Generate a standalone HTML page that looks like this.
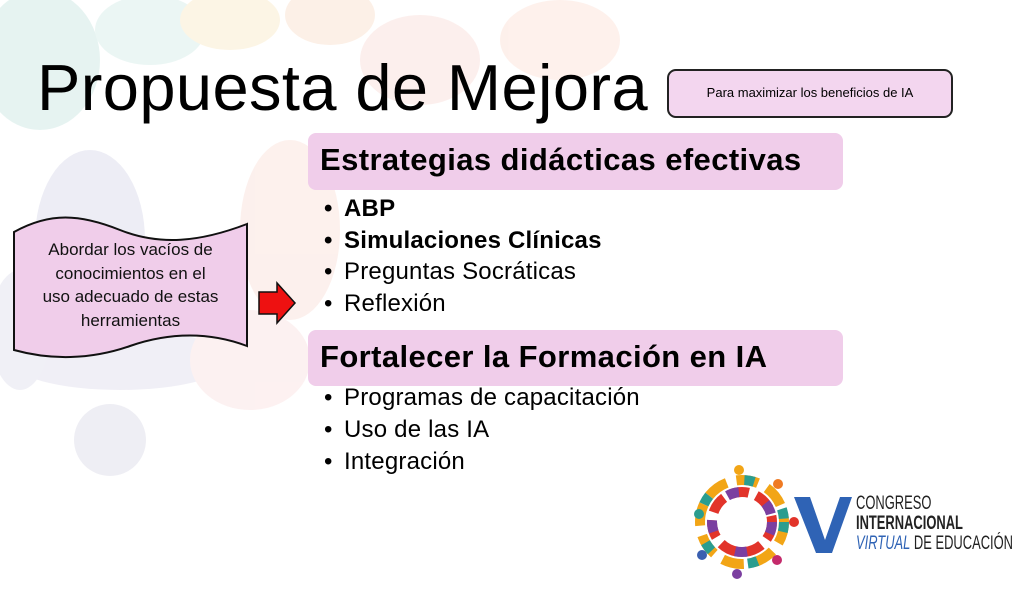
<!DOCTYPE html>
<html><head><meta charset="utf-8"><style>
html,body{margin:0;padding:0;background:#fff;}
#c{position:relative;width:1024px;height:589px;overflow:hidden;background:#fff;font-family:"Liberation Sans",sans-serif;}
.t{position:absolute;white-space:nowrap;color:#000;}
.b{position:absolute;font-size:24px;left:324px;letter-spacing:0.2px;line-height:26px;}
.b span{display:inline-block;width:20px;}
</style></head><body><div id="c">
<svg width="1024" height="589" style="position:absolute;left:0;top:0">
 <g opacity="0.5">
  <ellipse cx="40" cy="60" rx="60" ry="70" fill="#cfe9e4"/>
  <ellipse cx="150" cy="30" rx="55" ry="35" fill="#d9eeea"/>
  <ellipse cx="230" cy="20" rx="50" ry="30" fill="#fbeccc"/>
  <ellipse cx="330" cy="15" rx="45" ry="30" fill="#fbe3d0"/>
  <ellipse cx="90" cy="240" rx="55" ry="90" fill="#dcdcec"/>
  <ellipse cx="120" cy="360" rx="110" ry="30" fill="#e3e1ee"/>
  <ellipse cx="290" cy="230" rx="50" ry="90" fill="#fbe3dc"/>
  <ellipse cx="420" cy="60" rx="60" ry="45" fill="#fbe0dc"/>
  <ellipse cx="560" cy="40" rx="60" ry="40" fill="#fde3d9"/>
  <ellipse cx="250" cy="360" rx="60" ry="50" fill="#fbe4e4"/>
  <circle cx="110" cy="440" r="36" fill="#dfdeea"/>
  <ellipse cx="20" cy="330" rx="30" ry="60" fill="#e3e3ee"/>
 </g>
 <path d="M14,232 C50,212 80,214 120,230 C160,246 200,242 247,224 L247,346 C210,332 170,332 130,346 C90,360 50,360 14,350 Z" fill="#f0cdea" stroke="#111" stroke-width="2"/>
 <path d="M259,292 L277,292 L277,283 L295,303 L277,323 L277,314 L259,314 Z" fill="#ee1111" stroke="#111" stroke-width="1.5"/>
 <rect x="668" y="70" width="284" height="47" rx="8" fill="#f3d6ef" stroke="#222" stroke-width="2"/>
 <rect x="308" y="133" width="535" height="57" rx="8" fill="#f0cdea"/>
 <rect x="308" y="330" width="535" height="56" rx="8" fill="#f0cdea"/>
 <g transform="translate(742,522)">
  <circle r="42" fill="none" stroke="#f2a516" stroke-width="10" stroke-dasharray="22 10"/>
  <circle r="30" fill="none" stroke="#e2342a" stroke-width="10" stroke-dasharray="18 8"/>
  <circle r="30" fill="none" stroke="#7b3fa0" stroke-width="10" stroke-dasharray="12 30"/>
  <circle r="42" fill="none" stroke="#2a9d8f" stroke-width="10" stroke-dasharray="10 40"/>
  <circle cx="-3" cy="-52" r="5" fill="#f2a516"/><circle cx="36" cy="-38" r="5" fill="#ef7a22"/>
  <circle cx="52" cy="0" r="5" fill="#e2342a"/><circle cx="35" cy="38" r="5" fill="#c42a6b"/>
  <circle cx="-5" cy="52" r="5" fill="#7b3fa0"/><circle cx="-40" cy="33" r="5" fill="#3a5fb0"/>
  <circle cx="-43" cy="-8" r="5" fill="#2a9d8f"/>
 </g>
 <path d="M794,497 L810,497 L825,540 L840,497 L852,497 L832,553 L816,553 Z" fill="#2f63b5"/>
</svg>
<div class="t" style="left:37px;top:50px;font-size:65px;letter-spacing:0.4px">Propuesta de Mejora</div>
<div class="t" style="left:668px;top:85px;width:284px;text-align:center;font-size:13px">Para maximizar los beneficios de IA</div>
<div class="t" style="left:320px;top:142px;font-size:31px;font-weight:bold;letter-spacing:0.4px">Estrategias didácticas efectivas</div>
<div class="b" style="top:196px;font-weight:bold"><span>•</span>ABP</div>
<div class="b" style="top:228px;font-weight:bold"><span>•</span>Simulaciones Clínicas</div>
<div class="b" style="top:259px"><span>•</span>Preguntas Socráticas</div>
<div class="b" style="top:291px"><span>•</span>Reflexión</div>
<div class="t" style="left:320px;top:339px;font-size:31px;font-weight:bold;letter-spacing:0.4px">Fortalecer la Formación en IA</div>
<div class="b" style="top:385px"><span>•</span>Programas de capacitación</div>
<div class="b" style="top:417px"><span>•</span>Uso de las IA</div>
<div class="b" style="top:449px"><span>•</span>Integración</div>
<div class="t" style="left:14px;top:238px;width:233px;text-align:center;font-size:17px;line-height:23.5px;color:#111">Abordar los vacíos de<br>conocimientos en el<br>uso adecuado de estas<br>herramientas</div>
<div class="t" style="left:856px;top:494px;font-size:19px;color:#222;line-height:20px;transform:scaleX(0.68);transform-origin:0 0">CONGRESO<br><b>INTERNACIONAL</b><br><span style="color:#2f63b5;font-style:italic">VIRTUAL</span> DE EDUCACIÓN</div>
</div></body></html>
